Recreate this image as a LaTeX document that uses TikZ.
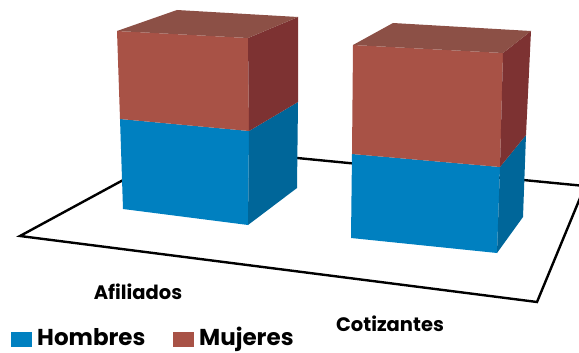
\documentclass[tikz,border=0pt]{standalone}
\usepackage{fontspec}
\setmainfont{Poppins}
\usetikzlibrary{positioning}

\definecolor{hombresfront}{RGB}{0,128,192}
\definecolor{hombresside}{RGB}{0,102,153}
\definecolor{mujeresfront}{RGB}{168,82,70}
\definecolor{mujeresside}{RGB}{125,50,50}
\definecolor{mujerestop}{RGB}{140,80,70}

\tikzset{
    catlabel/.style={font=\bfseries\fontsize{19.5}{22}\selectfont, inner sep=0pt, anchor=base},
    legendbox/.style={minimum width=21pt, minimum height=15pt, inner sep=0pt},
    legendtext/.style={font=\bfseries\fontsize{23}{26}\selectfont, inner sep=0pt, anchor=base west}
}

\begin{document}
\begin{tikzpicture}[x=1pt,y=-1pt]
    \useasboundingbox (0,0) rectangle (579,353);

    % Draw the floor
    \begin{scope}
        \clip (0,0) rectangle (579,353);
        \draw[line width=2.4pt, line join=miter] (20,236) -- (184,147) -- (585,186) -- (537,302) -- cycle;
    \end{scope}

    % Bar for Afiliados
    \fill[hombresfront] (123,209) -- (248,225) -- (249,131) -- (120,119) -- cycle;
    \fill[hombresside] (248,225) -- (297,188) -- (298,102) -- (249,131) -- cycle;
    \fill[mujeresfront] (120,119) -- (249,131) -- (248,38) -- (117,31) -- cycle;
    \fill[mujeresside] (249,131) -- (298,102) -- (298,17) -- (248,38) -- cycle;
    \fill[mujerestop] (117,31) -- (248,38) -- (298,17) -- (177,10) -- cycle;

    % Bar for Cotizantes
    \fill[hombresfront] (351,238) -- (497,253) -- (500,167) -- (352,154) -- cycle;
    \fill[hombresside] (497,253) -- (523,217) -- (526,135) -- (500,167) -- cycle;
    \fill[mujeresfront] (352,154) -- (500,167) -- (503,53) -- (353,45) -- cycle;
    \fill[mujeresside] (500,167) -- (526,135) -- (531,31) -- (503,53) -- cycle;
    \fill[mujerestop] (353,45) -- (503,53) -- (531,31) -- (393,23) -- cycle;

    % Category labels
    \node[catlabel] (afiliados) at (138,299) {Afiliados};
    \node[catlabel] (cotizantes) at (390,331) {Cotizantes};

    % Legend
    \node[legendbox, fill=hombresfront] (hombresbox) at (21.5,339) {};
    \node[legendtext] (hombres) at (37,345.5) {Hombres};
    \node[legendbox, fill=mujeresfront] (mujeresbox) at (183,339) {};
    \node[legendtext] (mujeres) at (199,345.5) {Mujeres};
\end{tikzpicture}
\end{document}
